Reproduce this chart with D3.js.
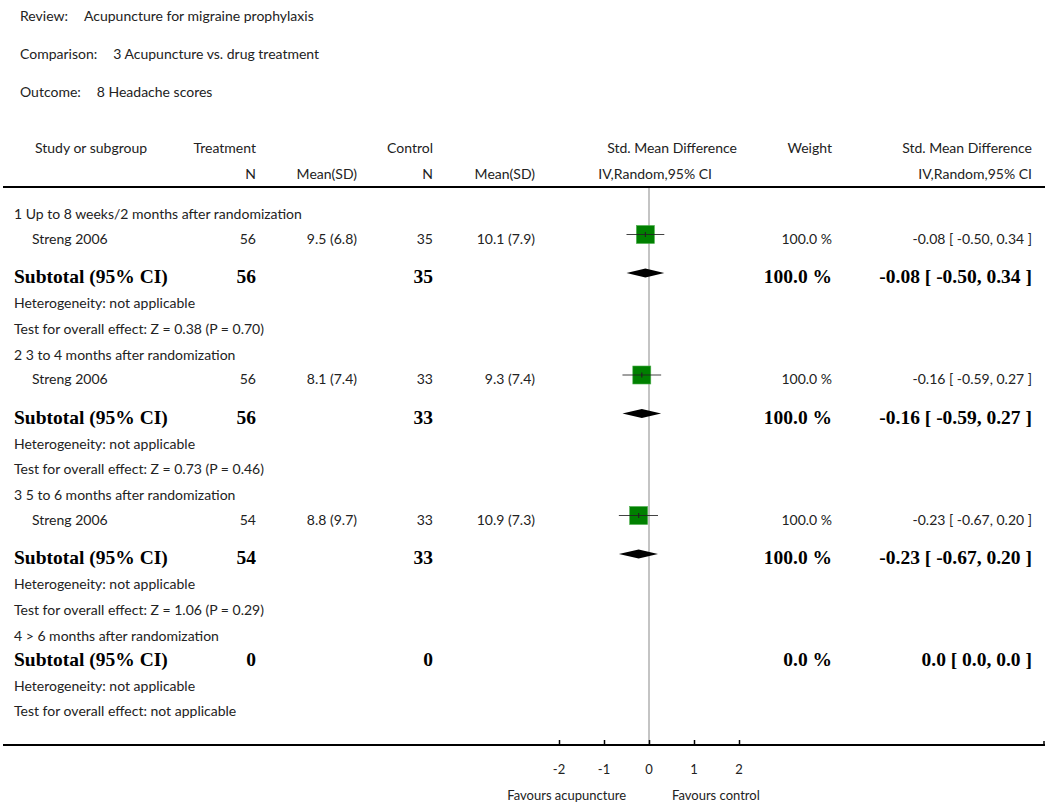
<!DOCTYPE html>
<html>
<head>
<meta charset="utf-8">
<script src="https://cdn.jsdelivr.net/npm/d3@7"></script>
<style>
  body { margin: 0; background: #fff; }
  svg text { font-family: Lato, "Open Sans", sans-serif; fill: #222; }
  svg text.bold { font-family: "Liberation Serif", "DejaVu Serif", serif; font-weight: bold; fill: #000; }
</style>
</head>
<body>
<div id="chart"></div>
<script>
// header info
const titleLabels = ["Review:", "Comparison:", "Outcome:"];
const titleValues = ["Acupuncture for migraine prophylaxis", "3 Acupuncture vs. drug treatment", "8 Headache scores"];

// subgroups
const groupNames = [
  "1 Up to 8 weeks/2 months after randomization",
  "2 3 to 4 months after randomization",
  "3 5 to 6 months after randomization",
  "4 > 6 months after randomization"
];

// one study per subgroup (last subgroup has none)
const studyNames = ["Streng 2006", "Streng 2006", "Streng 2006", null];
const treatN = [56, 56, 54, null];
const treatMeanSD = ["9.5 (6.8)", "8.1 (7.4)", "8.8 (9.7)", null];
const ctrlN = [35, 33, 33, null];
const ctrlMeanSD = ["10.1 (7.9)", "9.3 (7.4)", "10.9 (7.3)", null];
const smd = [-0.08, -0.16, -0.23, null];
const ciLow = [-0.50, -0.59, -0.67, null];
const ciHigh = [0.34, 0.27, 0.20, null];
const weights = [100.0, 100.0, 100.0, null];

// subtotals
const subTreatN = [56, 56, 54, 0];
const subCtrlN = [35, 33, 33, 0];
const subWeight = ["100.0 %", "100.0 %", "100.0 %", "0.0 %"];
const subText = ["-0.08 [ -0.50, 0.34 ]", "-0.16 [ -0.59, 0.27 ]", "-0.23 [ -0.67, 0.20 ]", "0.0 [ 0.0, 0.0 ]"];
const heterogeneity = ["Heterogeneity: not applicable", "Heterogeneity: not applicable", "Heterogeneity: not applicable", "Heterogeneity: not applicable"];
const overallTest = [
  "Test for overall effect: Z = 0.38 (P = 0.70)",
  "Test for overall effect: Z = 0.73 (P = 0.46)",
  "Test for overall effect: Z = 1.06 (P = 0.29)",
  "Test for overall effect: not applicable"
];

// axis
const axisTicks = [-2, -1, 0, 1, 2];
const favoursLeft = "Favours acupuncture";
const favoursRight = "Favours control";

const width = 1050, height = 808;
// plain hyphen for negatives, like the original
const fmt2 = function(v) { return d3.format(".2f")(v).replace("\u2212", "-"); };

const svg = d3.select("#chart").append("svg")
  .attr("width", width)
  .attr("height", height);

// title block
titleLabels.forEach(function(lab, i) {
  const t = svg.append("text")
    .attr("x", 20)
    .attr("y", 21 + i * 38)
    .style("font-size", "14px");
  t.append("tspan").text(lab);
  t.append("tspan").attr("dx", 16).text(titleValues[i]);
});

// columns
const col = {
  study: 14, studyIndent: 32, studyHead: 35,
  tn: 256, tm: 357, cn: 433, cm: 535,
  weight: 832, right: 1032
};

// header
function headText(x, y, txt, anchor) {
  svg.append("text").attr("x", x).attr("y", y)
    .attr("text-anchor", anchor || "end")
    .style("font-size", "14px").text(txt);
}
headText(col.studyHead, 153, "Study or subgroup", "start");
headText(col.tn, 153, "Treatment");
headText(col.cn, 153, "Control");
headText(737, 153, "Std. Mean Difference");
headText(col.weight, 153, "Weight");
headText(col.right, 153, "Std. Mean Difference");
headText(col.tn, 179, "N");
headText(col.tm, 179, "Mean(SD)");
headText(col.cn, 179, "N");
headText(col.cm, 179, "Mean(SD)");
headText(712, 179, "IV,Random,95% CI");
headText(col.right, 179, "IV,Random,95% CI");

const headerLineY = 187, axisY = 745;

// build row list
const rows = [];
groupNames.forEach(function(g, i) {
  rows.push({ type: "group", gap: 26, i: i });
  if (studyNames[i]) rows.push({ type: "study", gap: 24.5, i: i });
  rows.push({ type: "subtotal", gap: studyNames[i] ? 39.5 : 25, i: i });
  rows.push({ type: "het", gap: 25, i: i });
  rows.push({ type: "test", gap: 25.5, i: i });
});
let yy = 193;
rows.forEach(function(r) { yy += r.gap; r.y = yy; });

const x = d3.scaleLinear().domain([-2, 2]).range([559, 739]);

// zero line
svg.append("line")
  .attr("x1", x(0)).attr("x2", x(0))
  .attr("y1", headerLineY).attr("y2", axisY)
  .attr("stroke", "#c4c4c4").attr("stroke-width", 2);

// horizontal rules
svg.append("line").attr("x1", 3).attr("x2", 1045)
  .attr("y1", headerLineY).attr("y2", headerLineY)
  .attr("stroke", "#000").attr("stroke-width", 2);
svg.append("line").attr("x1", 3).attr("x2", 1045)
  .attr("y1", axisY).attr("y2", axisY)
  .attr("stroke", "#000").attr("stroke-width", 2);

const sq = d3.scaleSqrt().domain([0, 100]).range([0, 18]);

rows.forEach(function(r) {
  const i = r.i;
  if (r.type === "group") {
    svg.append("text").attr("x", col.study).attr("y", r.y)
      .style("font-size", "14px").text(groupNames[i]);
  } else if (r.type === "het" || r.type === "test") {
    svg.append("text").attr("x", col.study).attr("y", r.y)
      .style("font-size", "14px")
      .text(r.type === "het" ? heterogeneity[i] : overallTest[i]);
  } else if (r.type === "study") {
    const cells = [
      [col.studyIndent, studyNames[i], "start"],
      [col.tn, treatN[i], "end"],
      [col.tm, treatMeanSD[i], "end"],
      [col.cn, ctrlN[i], "end"],
      [col.cm, ctrlMeanSD[i], "end"],
      [col.weight, d3.format(".1f")(weights[i]) + " %", "end"],
      [col.right, fmt2(smd[i]) + " [ " + fmt2(ciLow[i]) + ", " + fmt2(ciHigh[i]) + " ]", "end"]
    ];
    cells.forEach(function(c) {
      svg.append("text").attr("x", c[0]).attr("y", r.y)
        .attr("text-anchor", c[2])
        .style("font-size", "14px").text(c[1]);
    });
    const cy = r.y - 9;
    const s = sq(weights[i]);
    svg.append("rect")
      .attr("x", x(smd[i]) - s / 2).attr("y", cy - s / 2)
      .attr("width", s).attr("height", s)
      .attr("fill", "#008000").attr("stroke", "#4caf4c").attr("stroke-width", 0.6);
    svg.append("line")
      .attr("x1", x(ciLow[i])).attr("x2", x(ciHigh[i]))
      .attr("y1", cy).attr("y2", cy)
      .attr("stroke", "#222").attr("stroke-width", 1.2).attr("stroke-opacity", 0.85);
    svg.append("line")
      .attr("x1", x(smd[i])).attr("x2", x(smd[i]))
      .attr("y1", cy - 2.5).attr("y2", cy + 2.5)
      .attr("stroke", "#222").attr("stroke-width", 1.2);
  } else if (r.type === "subtotal") {
    const cells = [
      [col.study, "Subtotal (95% CI)", "start"],
      [col.tn, subTreatN[i], "end"],
      [col.cn, subCtrlN[i], "end"],
      [col.weight, subWeight[i], "end"],
      [col.right, subText[i], "end"]
    ];
    cells.forEach(function(c) {
      svg.append("text").attr("class", "bold")
        .attr("x", c[0]).attr("y", r.y)
        .attr("text-anchor", c[2])
        .style("font-size", "19.5px").text(c[1]);
    });
    if (smd[i] !== null) {
      const cy = r.y - 10;
      const pts = [[x(ciLow[i]), cy], [x(smd[i]), cy - 4.5], [x(ciHigh[i]), cy], [x(smd[i]), cy + 4.5]];
      svg.append("path")
        .attr("d", d3.line()(pts) + "Z")
        .attr("fill", "#000");
    }
  }
});

// axis
const axis = d3.axisTop(x).tickValues(axisTicks).tickSize(5).tickFormat("");
const gAxis = svg.append("g").attr("transform", "translate(0," + axisY + ")").call(axis);
gAxis.select(".domain").remove();
gAxis.selectAll(".tick line").attr("stroke", "#000").attr("stroke-width", 1.5);
svg.append("line").attr("x1", 1044).attr("x2", 1044)
  .attr("y1", axisY - 4).attr("y2", axisY)
  .attr("stroke", "#000").attr("stroke-width", 1.5);

svg.selectAll("text.ticklab")
  .data(axisTicks)
  .enter().append("text")
  .attr("class", "ticklab")
  .attr("x", function(d) { return x(d); })
  .attr("y", 774)
  .attr("text-anchor", "middle")
  .style("font-size", "13px")
  .text(function(d) { return d < 0 ? "-" + Math.abs(d) : d; });

svg.append("text").attr("x", x(0) - 23).attr("y", 800)
  .attr("text-anchor", "end").style("font-size", "13px").text(favoursLeft);
svg.append("text").attr("x", x(0) + 23).attr("y", 800)
  .attr("text-anchor", "start").style("font-size", "13px").text(favoursRight);
</script>
</body>
</html>
